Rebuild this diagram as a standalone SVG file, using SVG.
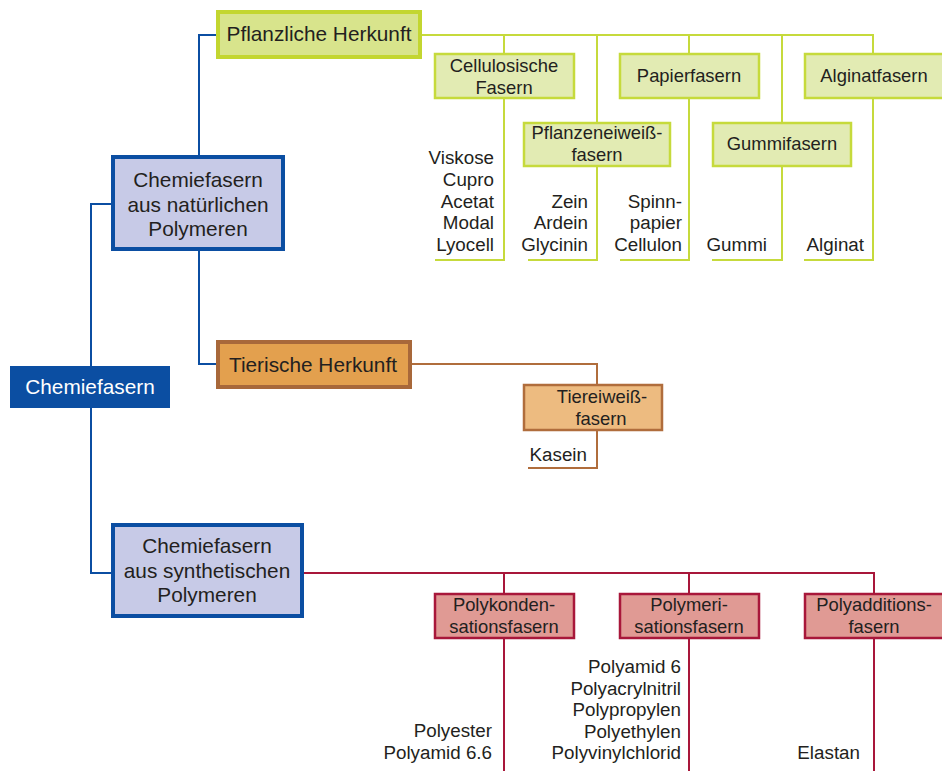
<svg xmlns="http://www.w3.org/2000/svg" width="942" height="771" viewBox="0 0 942 771">
<style>
text{font-family:"Liberation Sans",Arial,sans-serif;fill:#231f20}
.big{font-size:20.8px;text-anchor:middle}
.sm{font-size:18.4px;text-anchor:middle}
.lst{font-size:18.8px;text-anchor:end}
.w{fill:#fff}
.ln{fill:none;stroke-width:2}
.b{stroke:#0b4ea2}.g{stroke:#c6da3c}.br{stroke:#b06d3c}.r{stroke:#a8173a}
.gb{fill:#e2ebb3;stroke:#c6da3c;stroke-width:2.5}
.rb{fill:#e09a94;stroke:#a8173a;stroke-width:2.5}
.nb{fill:#c7cae7;stroke:#0b4ea2;stroke-width:4}
</style>
<rect width="942" height="771" fill="#fff"/>
<g id="connectors">
<path class="ln b" d="M199,157 V35 H216 M199,251 V364 H216 M111,204 H91 V573 H111"/>
<path class="ln g" d="M422,35 H873 V53 M504,35 V53 M597,35 V122 M689,35 V53 M782,35 V122 M504,99 V260 H435 M597,167 V260 H528 M689,99 V260 H620 M782,167 V260 H712 M873,99 V260 H804"/>
<path class="ln br" d="M412,364 H597 V384 M597,431 V468 H528"/>
<path class="ln r" d="M304,573 H874 V593 M504,573 V593 M689,573 V593 M504,639 V771 M689,639 V771 M874,639 V771"/>
</g>
<g id="root"><rect x="10" y="366" width="160" height="42" fill="#0b4ea2"/><text class="big w" x="90" y="394" font-size="23">Chemiefasern</text></g>
<g id="natuerlich"><rect class="nb" x="113" y="157" width="170" height="92"/><text class="big" x="198" y="187">Chemiefasern<tspan x="198" dy="24.5">aus natürlichen</tspan><tspan x="198" dy="24.5">Polymeren</tspan></text></g>
<g id="synthetisch"><rect class="nb" x="113" y="525" width="189" height="91"/><text class="big" x="207" y="553">Chemiefasern<tspan x="207" dy="24.5">aus synthetischen</tspan><tspan x="207" dy="24.5">Polymeren</tspan></text></g>
<g id="pflanzlich"><rect x="218" y="12" width="202" height="45" fill="#d8e48c" stroke="#c3d630" stroke-width="4"/><text class="big" x="319" y="41">Pflanzliche Herkunft</text></g>
<g id="tierisch"><rect x="218" y="342" width="192" height="45" fill="#e3a04e" stroke="#a8683a" stroke-width="4"/><text class="big" x="313" y="372">Tierische Herkunft</text></g>
<g id="cellulosisch"><rect class="gb" x="435" y="54" width="139" height="44"/><text class="sm" x="504" y="72">Cellulosische<tspan x="504" dy="21.5">Fasern</tspan></text>
<text class="lst" x="494" y="164">Viskose<tspan x="494" dy="21.75">Cupro</tspan><tspan x="494" dy="21.75">Acetat</tspan><tspan x="494" dy="21.75">Modal</tspan><tspan x="494" dy="21.75">Lyocell</tspan></text></g>
<g id="pflanzeneiweiss"><rect class="gb" x="524" y="123" width="146" height="43"/><text class="sm" x="597" y="139">Pflanzeneiweiß-<tspan x="597" dy="21.5">fasern</tspan></text>
<text class="lst" x="588" y="207.5">Zein<tspan x="588" dy="21.75">Ardein</tspan><tspan x="588" dy="21.75">Glycinin</tspan></text></g>
<g id="papier"><rect class="gb" x="620" y="54" width="139" height="44"/><text class="sm" x="689" y="82">Papierfasern</text>
<text class="lst" x="682" y="207.5">Spinn-<tspan x="682" dy="21.75">papier</tspan><tspan x="682" dy="21.75">Cellulon</tspan></text></g>
<g id="gummi"><rect class="gb" x="713" y="123" width="138" height="43"/><text class="sm" x="782" y="150">Gummifasern</text>
<text class="lst" x="767" y="251">Gummi</text></g>
<g id="alginat"><rect class="gb" x="805" y="54" width="139" height="44"/><text class="sm" x="874" y="82">Alginatfasern</text>
<text class="lst" x="864" y="251">Alginat</text></g>
<g id="tiereiweiss"><rect x="524" y="385" width="138" height="45" fill="#edbb80" stroke="#b06d3c" stroke-width="2.5"/><text class="sm" x="602" y="403">Tiereiweiß-<tspan x="601" dy="21.5">fasern</tspan></text>
<text class="lst" x="587" y="461">Kasein</text></g>
<g id="polykondensation"><rect class="rb" x="435" y="594" width="139" height="44"/><text class="sm" x="504" y="611">Polykonden-<tspan x="504" dy="21.5">sationsfasern</tspan></text>
<text class="lst" x="492" y="737">Polyester<tspan x="492" dy="21.5">Polyamid 6.6</tspan></text></g>
<g id="polymerisation"><rect class="rb" x="620" y="594" width="139" height="44"/><text class="sm" x="689" y="611">Polymeri-<tspan x="689" dy="21.5">sationsfasern</tspan></text>
<text class="lst" x="681" y="673">Polyamid 6<tspan x="681" dy="21.5">Polyacrylnitril</tspan><tspan x="681" dy="21.5">Polypropylen</tspan><tspan x="681" dy="21.5">Polyethylen</tspan><tspan x="681" dy="21.5">Polyvinylchlorid</tspan></text></g>
<g id="polyaddition"><rect class="rb" x="805" y="594" width="139" height="44"/><text class="sm" x="874" y="611">Polyadditions-<tspan x="874" dy="21.5">fasern</tspan></text>
<text class="lst" x="860" y="759">Elastan</text></g>
</svg>
